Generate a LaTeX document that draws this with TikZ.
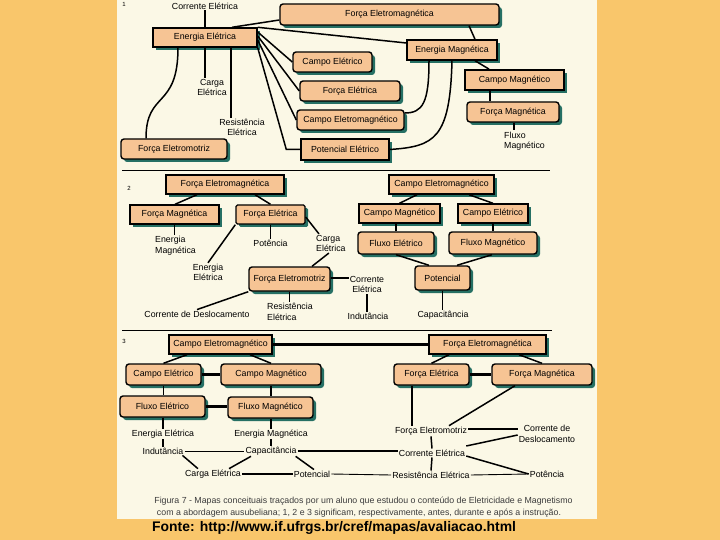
\documentclass[tikz,border=0pt]{standalone}
\usepackage{fontspec}
\setmainfont{Liberation Sans}
\usetikzlibrary{shadows,calc}
\definecolor{bg}{RGB}{249,198,107}
\definecolor{panel}{RGB}{251,248,230}
\definecolor{boxfill}{RGB}{246,196,148}
\definecolor{shade}{RGB}{38,112,100}
\definecolor{captxt}{RGB}{60,60,60}
\tikzset{
 bx/.style={draw=black, line width=1.4pt, fill=boxfill, inner sep=0pt,
   font=\fontsize{8.8}{10}\selectfont,
   drop shadow={shadow xshift=3pt, shadow yshift=-3pt, fill=shade, opacity=1}},
 rbx/.style={bx, rounded corners=3pt},
 lbl/.style={inner sep=1pt, font=\fontsize{8.8}{10.5}\selectfont, align=center},
 lbll/.style={lbl, align=left},
 ln/.style={line width=1.5pt},
 thn/.style={line width=0.9pt},
 tk/.style={line width=2.4pt},
}
\begin{document}
\begin{tikzpicture}[x=1pt,y=-1pt]
\useasboundingbox (0,0) rectangle (720,540);
\fill[bg] (0,0) rectangle (720,540);
\fill[panel] (117,0) rectangle (597,519);

% ---------- Section 1 ----------
\node[lbl, font=\fontsize{6}{7}\selectfont] (n1) at (124,4) {1};
\node[lbl] (tCE1) at (205,6) {Corrente Elétrica};
\node[rbx, minimum width=219pt, minimum height=21pt] (FEM1) at (389.5,14.5) {Força Eletromagnética};
\node[bx, minimum width=104pt, minimum height=19pt] (EE1) at (205,37.5) {Energia Elétrica};
\node[bx, minimum width=90pt, minimum height=20pt] (EM1) at (452,50) {Energia Magnética};
\node[rbx, minimum width=79pt, minimum height=20pt] (CE1) at (332.5,62) {Campo Elétrico};
\node[rbx, minimum width=100pt, minimum height=20pt] (FE1) at (350,91) {Força Elétrica};
\node[rbx, minimum width=107pt, minimum height=20pt] (CEM1) at (350.5,120) {Campo Eletromagnético};
\node[bx, minimum width=88pt, minimum height=21pt] (PE1) at (345,149.5) {Potencial Elétrico};
\node[bx, line width=1.8pt, minimum width=99pt, minimum height=20pt] (CM1) at (514.5,80) {Campo Magnético};
\node[rbx, minimum width=92pt, minimum height=20pt] (FM1) at (513,112) {Força Magnética};
\node[rbx, minimum width=106pt, minimum height=20pt] (FEMZ1) at (174,149) {Força Eletromotriz};
\node[lbl] (tCA1) at (212,87.5) {Carga\\Elétrica};
\node[lbl] (tRE1) at (242,127.5) {Resistência\\Elétrica};
\node[lbll, anchor=west] (tFM1) at (503,141) {Fluxo\\Magnético};

\draw[ln] (tCE1.south) -- (EE1.north);
\draw[ln] ([xshift=27pt]EE1.north) -- ([yshift=-5.5pt]FEM1.west);
\draw[ln] (EE1.north east) -- ([yshift=7pt]EM1.west);
\draw[ln] ([yshift=5.5pt]EE1.east) -- (CE1.west);
\draw[ln] ([yshift=1.5pt]EE1.east) -- (FE1.west);
\draw[ln] ([yshift=-2.5pt]EE1.east) -- (CEM1.west);
\draw[ln] (PE1.west) -- ++(-14,0) -- (EE1.south east);
\draw[ln] ([xshift=79.5pt]FEM1.south) -- ([xshift=23pt]EM1.north);
\draw[ln] ([xshift=23pt]EM1.south) -- ([xshift=-25.5pt]CM1.north);
\draw[ln] ([xshift=-24.5pt]CM1.south) -- ([xshift=-23pt]FM1.north);
\draw[ln] ([xshift=1pt]FM1.south) -- ([xshift=1pt]FM1.south |- tFM1.north);
\draw[ln] ([xshift=-23pt]EM1.south) .. controls +(0,42) and +(18,0) .. ([yshift=7pt]CEM1.east);
\draw[ln] (EM1.south) .. controls +(-2,78) and +(45,-3) .. (PE1.east);
\draw[ln] ([xshift=-27pt]EE1.south) .. controls +(0,62) and +(0,-48) .. ([xshift=-28pt]FEMZ1.north);
\draw[ln] (EE1.south) -- (EE1.south |- tCA1.north);
\draw[ln] ([xshift=26pt]EE1.south) -- ([xshift=26pt]EE1.south |- tRE1.north);

\draw[line width=0.8pt] (122,170) -- (550,170);

% ---------- Section 2 ----------
\node[lbl, font=\fontsize{6}{7}\selectfont] (n2) at (129,188) {2};
\node[bx, minimum width=118pt, minimum height=19pt] (FEM2) at (225,184.5) {Força Eletromagnética};
\node[bx, minimum width=105pt, minimum height=19pt] (CEM2) at (441.5,184.5) {Campo Eletromagnético};
\node[bx, minimum width=89pt, minimum height=19pt] (FM2) at (174.5,214.5) {Força Magnética};
\node[bx, rounded corners=1.5pt, minimum width=69pt, minimum height=19pt] (FE2) at (270.5,214.5) {Força Elétrica};
\node[rbx, minimum width=81pt, minimum height=24pt] (FEMZ2) at (289.5,279) {Força Eletromotriz};
\node[bx, minimum width=81pt, minimum height=19pt] (CM2) at (399.5,213.5) {Campo Magnético};
\node[bx, minimum width=70pt, minimum height=19pt] (CE2) at (493,213.5) {Campo Elétrico};
\node[rbx, minimum width=76pt, minimum height=22pt] (FLE2) at (396,243) {Fluxo Elétrico};
\node[rbx, minimum width=88pt, minimum height=22pt] (FLM2) at (493,243) {Fluxo Magnético};
\node[rbx, minimum width=55pt, minimum height=24pt] (POT2) at (442.5,278) {Potencial};

\node[lbll, anchor=west] (tEM2) at (154,245.5) {Energia\\Magnética};
\node[lbl] (tEE2) at (208,272.5) {Energia\\Elétrica};
\node[lbl] (tPOT2) at (270.5,243) {Potência};
\node[lbll, anchor=west] (tCA2) at (315,243.5) {Carga\\Elétrica};
\node[lbl] (tCD2) at (197,314) {Corrente de Deslocamento};
\node[lbll, anchor=west] (tRE2) at (266,312) {Resistência\\Elétrica};
\node[lbl] (tCE2) at (367,284.5) {Corrente\\Elétrica};
\node[lbl] (tIN2) at (368,316) {Indutância};
\node[lbl] (tCAP2) at (443,315) {Capacitância};

\draw[ln] ([xshift=-28pt]FEM2.south) -- ([xshift=0.5pt]FM2.north);
\draw[ln] ([xshift=30pt]FEM2.south) -- (FE2.north);
\draw[ln] (FM2.south) -- (FM2.south |- tEM2.north);
\draw[ln] (FE2.south west) -- (tEE2.north);
\draw[ln] (FE2.south) -- (tPOT2.north);
\draw[ln] ([yshift=-2.5pt]FE2.east) -- ([xshift=4pt]tCA2.north west);
\draw[ln] ([xshift=-2pt]tCA2.south) -- ([xshift=22.5pt]FEMZ2.north);
\draw[ln] (FEMZ2.south west) -- (tCD2.north);
\draw[ln] (FEMZ2.south) -- (FEMZ2.south |- tRE2.north);
\draw[ln] ([yshift=1pt]FEMZ2.east) -- ([yshift=1pt]FEMZ2.east -| tCE2.west);
\draw[ln] (tCE2.south) -- (tCE2.south |- tIN2.north);
\draw[ln] ([xshift=-24.5pt]CEM2.south) -- (CM2.north);
\draw[ln] ([xshift=27.5pt]CEM2.south) -- (CE2.north);
\draw[ln] (FLE2.north) -- (FLE2.north |- CM2.south);
\draw[ln] (CE2.south) -- (FLM2.north);
\draw[ln] (FLE2.south) -- ([xshift=-13.5pt]POT2.north);
\draw[ln] ([xshift=-1pt]FLM2.south) -- ([xshift=14.5pt]POT2.north);
\draw[ln] (POT2.south) -- (POT2.south |- tCAP2.north);

\draw[line width=0.8pt] (122,330) -- (552,330);

% ---------- Section 3 ----------
\node[lbl, font=\fontsize{6}{7}\selectfont] (n3) at (124,341) {3};
\node[bx, minimum width=103pt, minimum height=19pt] (CEM3) at (220.5,344.5) {Campo Eletromagnético};
\node[bx, minimum width=117pt, minimum height=19pt] (FEM3) at (487.5,344.5) {Força Eletromagnética};
\node[rbx, minimum width=75pt, minimum height=21pt] (CE3) at (163.5,374.5) {Campo Elétrico};
\node[rbx, minimum width=100pt, minimum height=21pt] (CM3) at (271,374.5) {Campo Magnético};
\node[rbx, minimum width=85pt, minimum height=21pt] (FLE3) at (162.5,406.5) {Fluxo Elétrico};
\node[rbx, minimum width=85pt, minimum height=21pt] (FLM3) at (270.5,407.5) {Fluxo Magnético};
\node[rbx, minimum width=75pt, minimum height=21pt] (FE3) at (431.5,374.5) {Força Elétrica};
\node[rbx, minimum width=100pt, minimum height=21pt] (FM3) at (542,374.5) {Força Magnética};

\node[lbl] (tEE3) at (163,434) {Energia Elétrica};
\node[lbl] (tEM3) at (271,434) {Energia Magnética};
\node[lbl] (tIND3) at (163,451) {Indutância};
\node[lbl] (tCAP3) at (271,451) {Capacitância};
\node[lbl] (tCAR3) at (213,474) {Carga Elétrica};
\node[lbl] (tPOT3) at (312,474) {Potencial};
\node[lbl] (tFEZ3) at (431,431) {Força Eletromotriz};
\node[lbl] (tCD3) at (547,434) {Corrente de\\Deslocamento};
\node[lbl] (tCE3) at (432,453) {Corrente Elétrica};
\node[lbl] (tRE3) at (431,475) {Resistência Elétrica};
\node[lbl] (tPT3) at (547,474) {Potência};

\draw[tk] (CEM3.east) -- (FEM3.west);
\draw[ln] ([xshift=-33.5pt]CEM3.south) -- (CE3.north);
\draw[ln] ([xshift=29.5pt]CEM3.south) -- (CM3.north);
\draw[tk] (CE3.east) -- (CM3.west);
\draw[ln] (CE3.south) -- (CE3.south |- FLE3.north);
\draw[ln] (CM3.south) -- (CM3.south |- FLM3.north);
\draw[tk] (FLE3.east) -- (FLE3.east -| FLM3.west);
\draw[ln] (FLE3.south -| tEE3) -- (tEE3.north);
\draw[ln] (FLM3.south -| tEM3) -- (tEM3.north);
\draw[ln] (tEE3.south) -- (tIND3.north);
\draw[ln] (tEM3.south) -- (tCAP3.north);
\draw[thn] (tIND3.east) -- (tCAP3.west);
\draw[tk] (tCAP3.east) -- (tCAP3.east -| tCE3.west);
\draw[ln] ([xshift=-2pt]tIND3.south east) -- ([xshift=14pt]tCAR3.north west);
\draw[ln] ([xshift=-20pt]tCAP3.south) -- ([xshift=16pt]tCAR3.north);
\draw[ln] ([xshift=-2pt]tCAP3.south east) -- ([xshift=2pt]tPOT3.north);
\draw[tk] (tCAR3.east) -- (tPOT3.west);
\draw[thn] (tPOT3.east) -- (tRE3.west);
\draw[thn] (tRE3.east) -- (tPT3.west);
\draw[ln] ([xshift=-38.5pt]FEM3.south) -- (FE3.north);
\draw[ln] ([xshift=31.5pt]FEM3.south) -- (FM3.north);
\draw[tk] (FE3.east) -- (FM3.west);
\draw[ln] ([xshift=-19.5pt]FE3.south) -- ([xshift=-19.5pt]FE3.south |- tFEZ3.north);
\draw[ln] ([xshift=-27pt]FM3.south) -- ([xshift=18pt]tFEZ3.north);
\draw[tk] ([yshift=2pt]tFEZ3.east) -- ([yshift=2pt]tFEZ3.east -| tCD3.west);
\draw[ln] ([yshift=7pt]tCE3.east) -- ([yshift=-1pt]tCD3.west);
\draw[ln] ([yshift=-3pt]tCE3.east) -- (tPT3.west);
\draw[ln] (tFEZ3.south) -- (tCE3.north);
\draw[ln] (tCE3.south) -- (tRE3.north);

% ---------- caption ----------
\node[inner sep=0pt, text=captxt, font=\fontsize{8.8}{10}\selectfont] (cap1) at (363.5,501) {Figura 7 - Mapas conceituais traçados por um aluno que estudou o conteúdo de Eletricidade e Magnetismo};
\node[inner sep=0pt, text=captxt, font=\fontsize{8.8}{10}\selectfont] (cap2) at (359,513) {com a abordagem ausubeliana; 1, 2 e 3 significam, respectivamente, antes, durante e após a instrução.};
\fill[bg] (0,519) rectangle (720,540);
\node[anchor=west, inner sep=0pt, font=\bfseries\fontsize{13.9}{15}\selectfont] (fonte) at (152,528) {Fonte: http://www.if.ufrgs.br/cref/mapas/avaliacao.html};
\end{tikzpicture}
\end{document}
